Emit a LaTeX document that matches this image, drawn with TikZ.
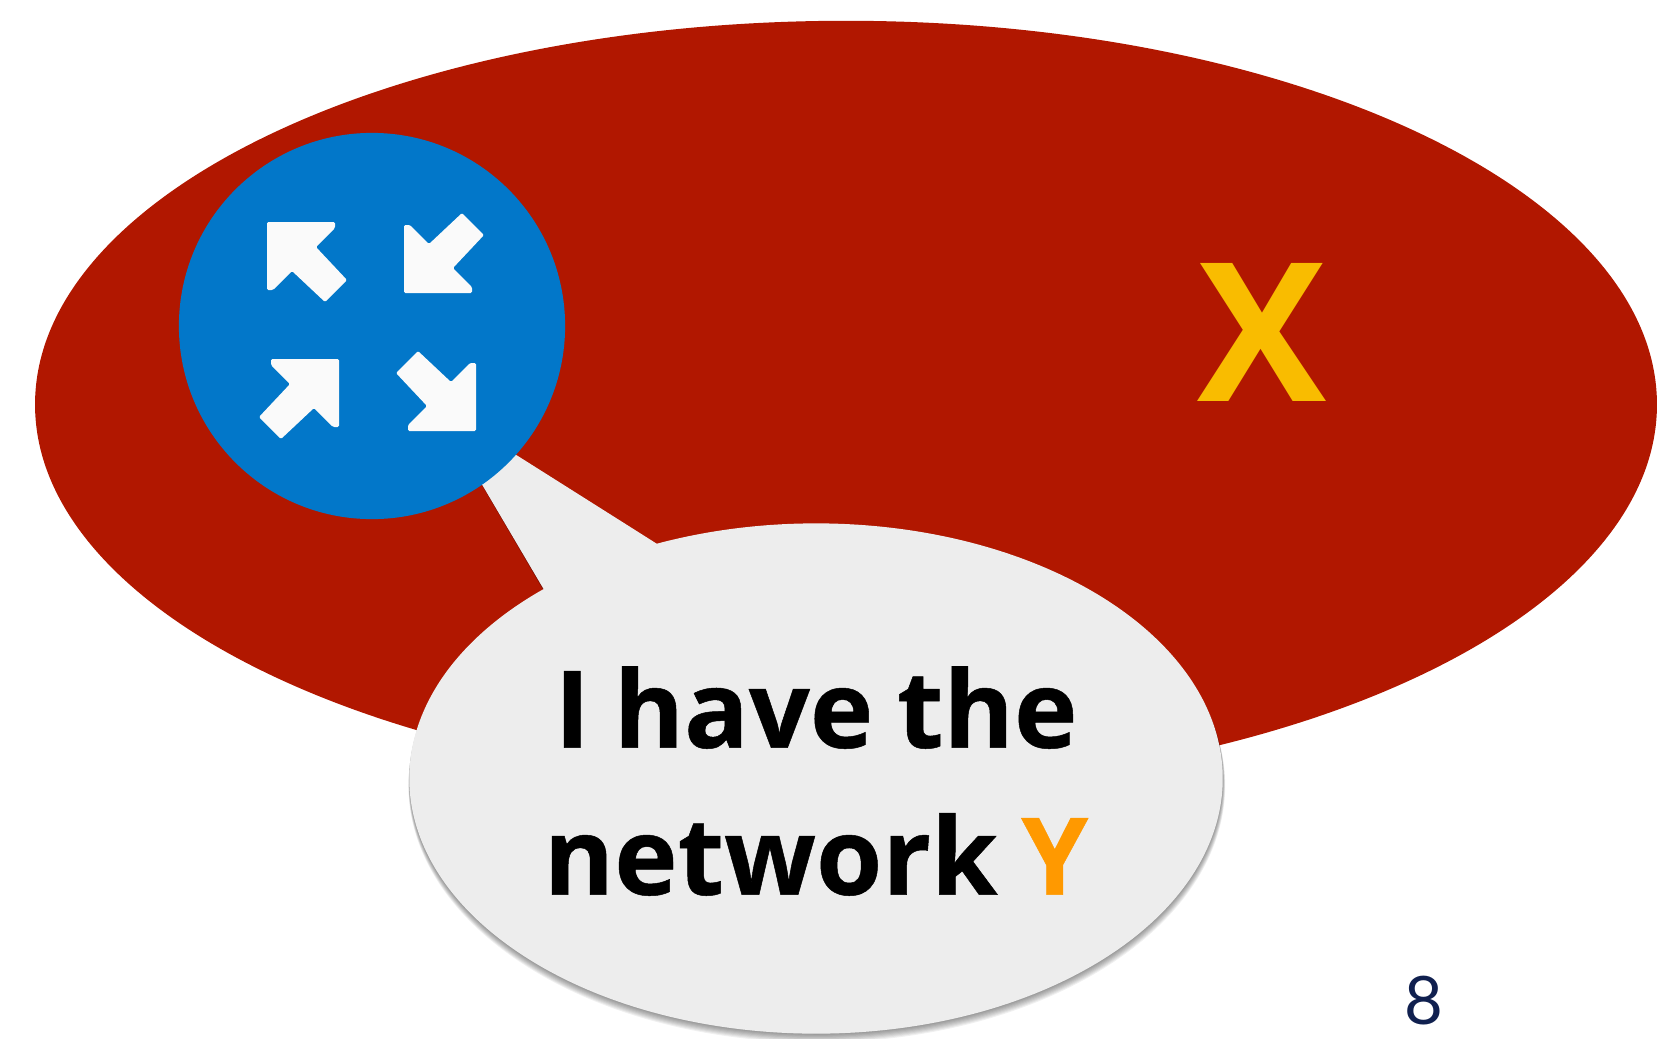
\documentclass[tikz,border=0pt]{standalone}
\usepackage{fontspec}
\setmainfont{Open Sans}
\newfontfamily\saidfont[UprightFont={* Bold}, FakeBold=0.45, WordSpace=0.85]{Open Sans}
\newfontfamily\pagefont{Lato}
\usepackage{xcolor}
\usetikzlibrary{shapes.geometric,shapes.callouts}
\definecolor{nicered}{RGB}{177, 23, 0}
\definecolor{niceblue}{RGB}{2, 119, 201}
\definecolor{nicegrey}{RGB}{237, 237, 237}
\definecolor{niceyellow}{RGB}{249, 188, 0}
\definecolor{niceorange}{RGB}{255, 153, 0}
\definecolor{nicenavy}{RGB}{16, 32, 79}
\tikzset{
	bubble/.style = {ellipse callout, minimum width = 8.13cm, minimum height = 5.10cm, inner sep = 0pt,
		callout absolute pointer = {(434,403)}, callout pointer arc = 19},
	fourarrow/.pic = {
		\fill [white!98!black, rounded corners = 0.4pt] (0,0) -- (68,0) -- (68,6) -- (49,25) -- (80,58) -- (58,80) -- (25,49) -- (6,68) -- (0,68) -- cycle;
	}
}

\begin{document}
\begin{tikzpicture}[x = 0.01cm, y = -0.01cm]
	\useasboundingbox (0,0) rectangle (1666,1039);
	\node (net) at (846,404.5) [ellipse, fill = nicered, inner sep = 0pt, minimum width = 16.21cm, minimum height = 7.67cm] {};
	\node (x) at (1262,332) [text = niceyellow, font = \bfseries\fontsize{55}{55}\selectfont] {X};
	% soft shadow of the bubble
	\foreach \i in {1,...,8}
		\node (shade\i) at (816+\i*0.1,778.5+\i*0.9) [bubble, fill = black, fill opacity = 0.06, minimum width = 8.13cm+\i*0.004cm, minimum height = 5.10cm+\i*0.004cm] {};
	\node (speech) at (816,778.5) [bubble, fill = nicegrey] {};
	\node (said) at (816,781) [align = center, inner sep = 0pt, font = \saidfont\fontsize{30.5}{41.8}\selectfont] {I have the\\network \textcolor{niceorange}{Y}};
	\node (router) at (372,326) [circle, fill = niceblue, inner sep = 0pt, minimum size = 3.86cm] {};
	\pic at (267,222) {fourarrow};
	\pic [rotate = 90] at (404,293) {fourarrow};
	\pic [rotate = -90] at (339,359) {fourarrow};
	\pic [rotate = 180] at (476,431) {fourarrow};
	\node (page) at (1424,1001) [text = nicenavy, font = \pagefont\fontsize{19}{20}\selectfont] {8};
\end{tikzpicture}
\end{document}
